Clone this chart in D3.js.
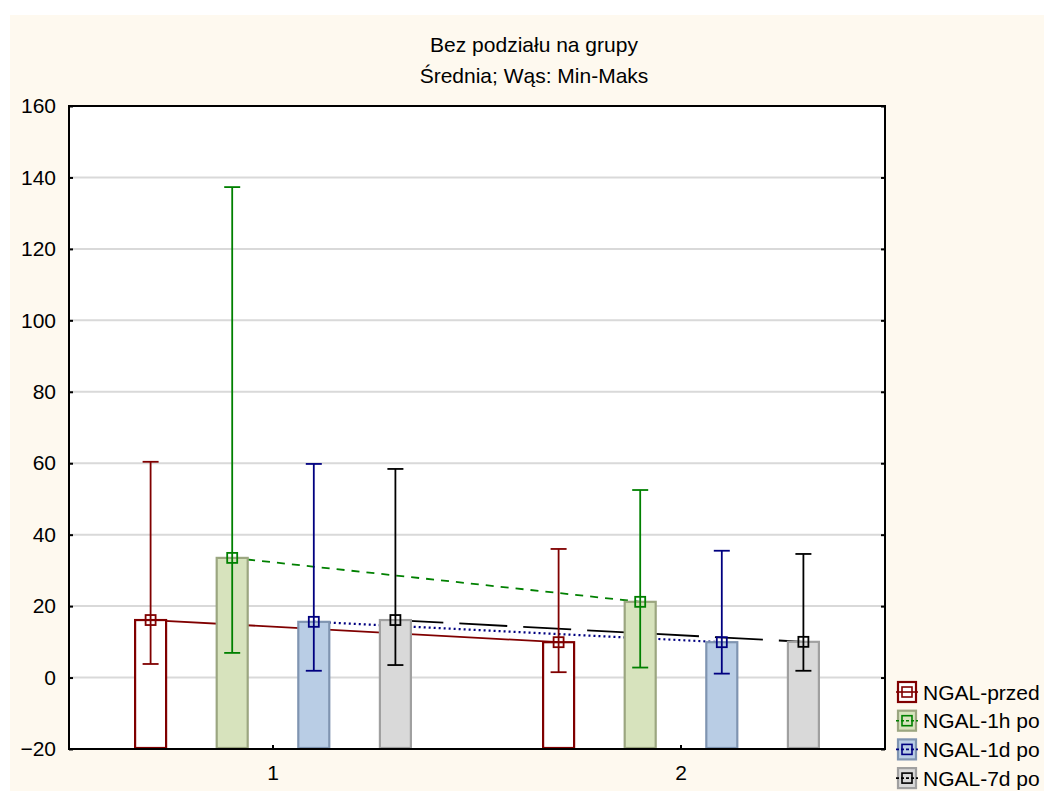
<!DOCTYPE html>
<html><head><meta charset="utf-8">
<script src="https://cdn.jsdelivr.net/npm/d3@7"></script>
<style>body{margin:0;background:#fff;font-family:"Liberation Sans",Arial,sans-serif}</style>
</head><body>
<svg id="c" width="1044" height="791"></svg>
<script>
const groups = ["1", "2"];
const seriesNames = ["NGAL-przed", "NGAL-1h po", "NGAL-1d po", "NGAL-7d po"];
const means = [[16.1, 9.9], [33.5, 21.2], [15.6, 9.9], [16.1, 10.0]];
const mins  = [[3.8, 1.5], [6.9, 2.8], [1.9, 1.1], [3.5, 1.9]];
const maxs  = [[60.4, 36.0], [137.3, 52.5], [59.8, 35.5], [58.4, 34.6]];
const yTicks = [-20, 0, 20, 40, 60, 80, 100, 120, 140, 160];
const titleLines = ["Bez podziału na grupy", "Średnia; Wąs: Min-Maks"];

const styles = [
  {fill:"#ffffff", stroke:"#800000", color:"#800000", dash:null},
  {fill:"#d7e3bd", stroke:"#9ba680", color:"#008000", dash:"8,7"},
  {fill:"#b9cde5", stroke:"#7f94b1", color:"#000080", dash:"2,3"},
  {fill:"#d9d9d9", stroke:"#a0a0a0", color:"#000000", dash:"48,16"}
];

const svg = d3.select("#c");
svg.append("rect").attr("x",10).attr("y",15).attr("width",1034).attr("height",776).attr("fill","#fef9ef");

const L=69, R=885, T=106, B=749;
const y = d3.scaleLinear().domain([-20,160]).range([B,T]);
const x = d3.scaleBand().domain(groups).range([L,R]);
const xs = d3.scaleBand().domain(d3.range(5)).range([0, x.bandwidth()]);
const barW = 31;
const cx = (g, s) => x(groups[g]) + xs.step()*(s+1);

const font = "Liberation Sans, Arial, sans-serif";

// title
titleLines.forEach((t,i)=>{
  svg.append("text").attr("x",534).attr("y",52+i*31).attr("text-anchor","middle")
    .attr("font-family",font).attr("font-size",21).attr("fill","#000").text(t);
});

// plot bg
svg.append("rect").attr("x",L).attr("y",T).attr("width",R-L).attr("height",B-T).attr("fill","#fff");

// grid
svg.append("g").selectAll("line").data(yTicks.filter(v=>v>-20 && v<160)).join("line")
  .attr("x1",L).attr("x2",R).attr("y1",d=>y(d)).attr("y2",d=>y(d))
  .attr("stroke","#d9d9d9").attr("stroke-width",2);

// connecting lines (under bars)
styles.forEach((st,s)=>{
  const line = d3.line().x(d=>d[0]).y(d=>d[1]);
  svg.append("path").attr("d", line(groups.map((g,gi)=>[cx(gi,s), y(means[s][gi])])))
    .attr("fill","none").attr("stroke",st.color).attr("stroke-width",st.dash==="2,3"?2.2:1.8)
    .attr("stroke-dasharray",st.dash);
});

// bars
styles.forEach((st,s)=>{
  groups.forEach((g,gi)=>{
    svg.append("rect").attr("x",cx(gi,s)-barW/2).attr("width",barW)
      .attr("y",y(means[s][gi])).attr("height",y(-20)-y(means[s][gi])-1)
      .attr("fill",st.fill).attr("stroke",st.stroke).attr("stroke-width",2.2);
  });
});

// error bars + markers
styles.forEach((st,s)=>{
  groups.forEach((g,gi)=>{
    const c = cx(gi,s);
    const gg = svg.append("g").attr("stroke",st.color).attr("stroke-width",1.8).attr("fill","none");
    gg.append("line").attr("x1",c).attr("x2",c).attr("y1",y(mins[s][gi])).attr("y2",y(maxs[s][gi]));
    gg.append("line").attr("x1",c-8).attr("x2",c+8).attr("y1",y(mins[s][gi])).attr("y2",y(mins[s][gi]));
    gg.append("line").attr("x1",c-8).attr("x2",c+8).attr("y1",y(maxs[s][gi])).attr("y2",y(maxs[s][gi]));
    gg.append("rect").attr("x",c-5).attr("y",y(means[s][gi])-5).attr("width",10).attr("height",10);
  });
});

// axes frame
svg.append("rect").attr("x",L).attr("y",T).attr("width",R-L).attr("height",B-T)
  .attr("fill","none").attr("stroke","#000").attr("stroke-width",2);

// y axis
const yAxis = d3.axisLeft(y).tickValues(yTicks).tickSizeInner(-4).tickSizeOuter(0).tickPadding(13);
const ya = svg.append("g").attr("transform",`translate(${L},0)`).call(yAxis);
ya.select(".domain").remove();
ya.selectAll("line").attr("stroke","#000").attr("stroke-width",2);
ya.selectAll("text").attr("font-family",font).attr("font-size",21).attr("fill","#000");
const yAxisR = d3.axisRight(y).tickValues(yTicks).tickSizeInner(-4).tickSizeOuter(0).tickFormat("");
const yr = svg.append("g").attr("transform",`translate(${R},0)`).call(yAxisR);
yr.select(".domain").remove();
yr.selectAll("line").attr("stroke","#000").attr("stroke-width",2);

// x axis
const xAxis = d3.axisBottom(x).tickSizeInner(-4).tickSizeOuter(0).tickPadding(16);
const xa = svg.append("g").attr("transform",`translate(0,${B})`).call(xAxis);
xa.select(".domain").remove();
xa.selectAll("line").attr("stroke","#000").attr("stroke-width",2);
xa.selectAll("text").attr("font-family",font).attr("font-size",21).attr("fill","#000");

// legend
styles.forEach((st,s)=>{
  const cy = 692 + s*28.7;
  const lg = svg.append("g");
  lg.append("rect").attr("x",898).attr("y",cy-10).attr("width",18).attr("height",20)
    .attr("fill",st.fill).attr("stroke",st.stroke).attr("stroke-width",2.2);
  lg.append("line").attr("x1",896).attr("x2",918).attr("y1",cy).attr("y2",cy)
    .attr("stroke",st.color).attr("stroke-width",1.6).attr("stroke-dasharray",st.dash?"3,2":null);
  lg.append("rect").attr("x",902).attr("y",cy-5).attr("width",10).attr("height",10)
    .attr("fill","none").attr("stroke",st.color).attr("stroke-width",1.6);
  lg.append("text").attr("x",923).attr("y",cy).attr("dy","0.36em")
    .attr("font-family",font).attr("font-size",21).attr("fill","#000").text(seriesNames[s]);
});
</script>
</body></html>
